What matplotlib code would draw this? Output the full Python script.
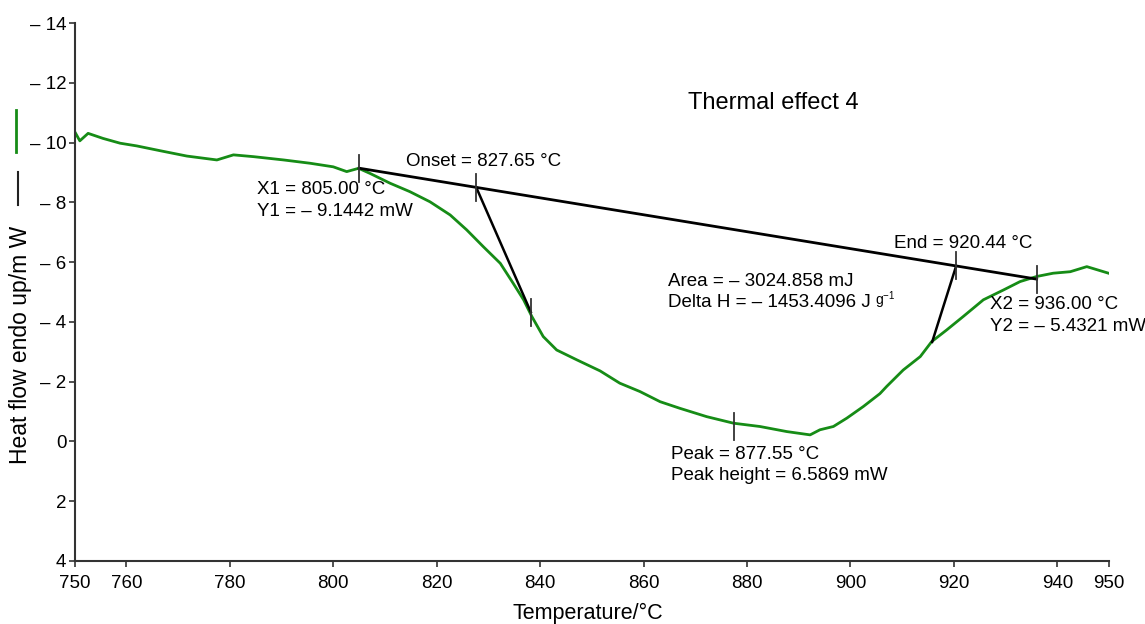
#Purpose: DSC curve with thermal effect 4 evaluation (onset, end, peak)
import matplotlib
matplotlib.use('Agg')
import matplotlib.pyplot as plt
from matplotlib.lines import Line2D

plt.rcParams['font.family'] = ['Liberation Sans', 'DejaVu Sans']

##########################################
#Data
temp = [750.0, 751.0, 752.6, 755.5, 758.8, 762.0, 766.5, 771.7, 777.5, 780.7, 784.6, 790.4,
	795.5, 800.0, 802.6, 804.9, 807.1, 811.0, 814.8, 818.7, 822.6, 825.8, 829.0, 832.3,
	834.8, 836.8, 838.4, 840.6, 843.2, 847.1, 851.6, 855.4, 859.3, 863.2, 867.0, 872.2,
	877.4, 882.5, 887.7, 892.2, 894.1, 896.7, 899.3, 902.5, 905.7, 907.0, 910.2, 913.5,
	915.7, 918.6, 921.8, 925.7, 929.6, 932.8, 936.0, 939.2, 942.5, 945.7, 949.9]
heat_flow = [-10.37, -10.06, -10.31, -10.14, -9.98, -9.89, -9.73, -9.55, -9.42, -9.59, -9.53, -9.42,
	-9.31, -9.19, -9.03, -9.14, -8.97, -8.64, -8.36, -8.02, -7.58, -7.08, -6.52, -5.96,
	-5.29, -4.74, -4.18, -3.51, -3.06, -2.73, -2.36, -1.95, -1.67, -1.33, -1.11, -0.83,
	-0.61, -0.50, -0.33, -0.22, -0.39, -0.50, -0.78, -1.17, -1.60, -1.84, -2.39, -2.84,
	-3.34, -3.73, -4.18, -4.74, -5.07, -5.35, -5.52, -5.63, -5.68, -5.85, -5.63]

x1, y1 = 805.00, -9.1442
x2, y2 = 936.00, -5.4321
onset = 827.65
end = 920.44
peak, peak_height = 877.55, 6.5869
onset_touch = [838.2, -4.33] #where the onset tangent meets the curve
end_touch = [915.8, -3.33] #where the end tangent meets the curve

xticks = [750, 760, 780, 800, 820, 840, 860, 880, 900, 920, 940, 950]
yticks = [-14, -12, -10, -8, -6, -4, -2, 0, 2, 4]
yticklabels = ['\u2013 14', '\u2013 12', '\u2013 10', '\u2013 8', '\u2013 6', '\u2013 4', '\u2013 2', '0', '2', '4']

green = '#168c16'
font_size = 13.5

##########################################
#Derived values on the baseline
def base_at(t):
	return y1 + (t - x1) / (x2 - x1) * (y2 - y1)

y_onset = base_at(onset)
y_end = base_at(end)
y_peak = base_at(peak) + peak_height

##########################################
#Plot
fig = plt.figure(figsize=[11.45, 6.24], dpi=100)
ax = fig.add_axes([0.0652, 0.101, 0.9034, 0.862])

ax.plot(temp, heat_flow, color=green, lw=2.0, zorder=2)

#baseline and tangents
ax.plot([x1, x2], [y1, y2], color='black', lw=2.0, zorder=3)
ax.plot([onset, onset_touch[0]], [y_onset, onset_touch[1]], color='black', lw=1.8, zorder=3)
ax.plot([end, end_touch[0]], [y_end, end_touch[1]], color='black', lw=1.8, zorder=3)

#small vertical markers
for (tx, ty) in [(x1, y1), (onset, y_onset), (onset_touch[0], onset_touch[1]), (end, y_end), (x2, y2), (peak, y_peak)]:
	ax.plot([tx, tx], [ty - 0.45, ty + 0.45], color='#333333', lw=1.3, zorder=4)

#annotations
ax.text(868.6, -11.32, 'Thermal effect 4', fontsize=17, ha='left', va='center')
ax.text(814.1, -9.38, 'Onset = 827.65 \u00b0C', fontsize=font_size, ha='left', va='center')
ax.text(785.3, -8.42, 'X1 = 805.00 \u00b0C', fontsize=font_size, ha='left', va='center')
ax.text(785.3, -7.68, 'Y1 = \u2013 9.1442 mW', fontsize=font_size, ha='left', va='center')
ax.text(908.4, -6.64, 'End = 920.44 \u00b0C', fontsize=font_size, ha='left', va='center')
ax.text(864.7, -5.34, 'Area = \u2013 3024.858 mJ', fontsize=font_size, ha='left', va='center')
dh = ax.text(864.7, -4.64, 'Delta H = \u2013 1453.4096 J', fontsize=font_size, ha='left', va='center')
ax.annotate('g$^{\\mathregular{-1}}$', xy=(1, 0.02), xycoords=dh, xytext=(3, 0), textcoords='offset points',
	fontsize=10, ha='left', va='bottom')
ax.text(927.0, -4.57, 'X2 = 936.00 \u00b0C', fontsize=font_size, ha='left', va='center')
ax.text(927.0, -3.83, 'Y2 = \u2013 5.4321 mW', fontsize=font_size, ha='left', va='center')
ax.text(865.3, 0.45, 'Peak = 877.55 \u00b0C', fontsize=font_size, ha='left', va='center')
ax.text(865.3, 1.15, 'Peak height = 6.5869 mW', fontsize=font_size, ha='left', va='center')

#axes
ax.set_xlim(750, 950)
ax.set_ylim(4, -14)
ax.set_xticks(xticks)
ax.set_xticklabels([str(t) for t in xticks], fontsize=font_size)
ax.set_yticks(yticks)
ax.set_yticklabels(yticklabels, fontsize=font_size)
ax.tick_params(direction='out', length=4, width=1.2, color='#333333')
ax.tick_params(axis='x', pad=6)
ax.tick_params(axis='y', pad=2)
for side in ['top', 'right']:
	ax.spines[side].set_visible(False)
for side in ['left', 'bottom']:
	ax.spines[side].set_color('#333333')
	ax.spines[side].set_linewidth(1.5)

fig.text(0.0175, 0.447, 'Heat flow endo up/m W', fontsize=16.5, rotation=90, ha='center', va='center')
fig.text(0.5135, 0.0176, 'Temperature/\u00b0C', fontsize=15.5, ha='center', va='center')

#legend-like line markers at the far left
fig.add_artist(Line2D([0.014, 0.014], [0.756, 0.824], color=green, lw=2.0))
fig.add_artist(Line2D([0.0157, 0.0157], [0.671, 0.724], color='#222222', lw=1.5))

#Save
plt.savefig('out.png', dpi=100)
plt.close()
